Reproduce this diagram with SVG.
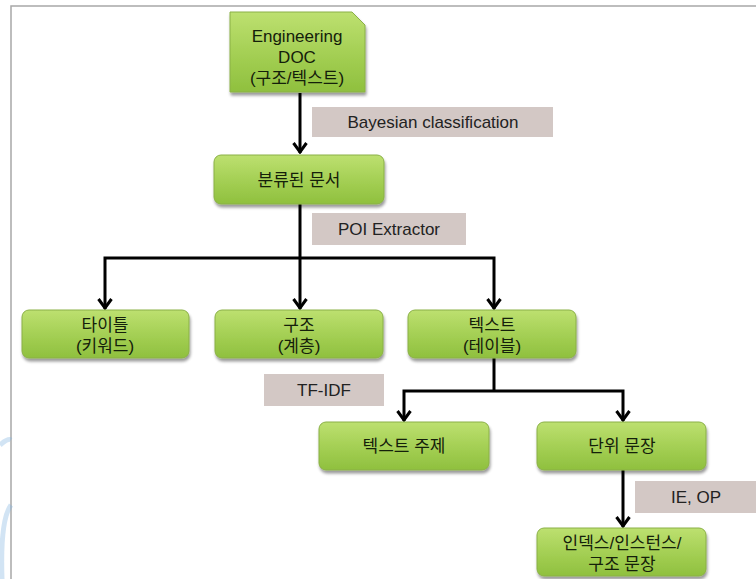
<svg xmlns="http://www.w3.org/2000/svg" width="756" height="579" viewBox="0 0 756 579">
<defs>
<linearGradient id="g" x1="0" y1="0" x2="0" y2="1">
<stop offset="0" stop-color="#bde070"/>
<stop offset="0.5" stop-color="#a5d055"/>
<stop offset="1" stop-color="#8fc03e"/>
</linearGradient>
<filter id="sh" x="-10%" y="-10%" width="125%" height="135%">
<feGaussianBlur in="SourceAlpha" stdDeviation="1.5"/>
<feOffset dx="1" dy="2.5" result="b"/>
<feComponentTransfer><feFuncA type="linear" slope="0.4"/></feComponentTransfer>
<feMerge><feMergeNode/><feMergeNode in="SourceGraphic"/></feMerge>
</filter>
<marker id="ah" viewBox="0 0 14 16" refX="13" refY="8" markerWidth="14" markerHeight="16" markerUnits="userSpaceOnUse" orient="auto-start-reverse">
<path d="M3,1.5 L12,8 L3,14.5" fill="none" stroke="#000" stroke-width="3"/>
</marker>
</defs>
<style>
.n{fill:url(#g);stroke:#8ab046;stroke-width:1;filter:url(#sh)}
.t{font-family:"Liberation Sans","Noto Sans CJK KR",sans-serif;font-size:17px;fill:#14200a;text-anchor:middle}
.lb{fill:#d3c8c5}
.lt{font-family:"Liberation Sans","Noto Sans CJK KR",sans-serif;font-size:17px;fill:#222;text-anchor:middle}
.c{fill:none;stroke:#000;stroke-width:3}
</style>
<rect width="756" height="579" fill="#fff"/>
<path d="M11,579 V6 H756" fill="none" stroke="#a8a8a8" stroke-width="1.5"/>
<g opacity="0.35" fill="none" stroke="#7fb3e0" stroke-width="5">
<path d="M0,445 Q8,438 11,440"/>
<path d="M2,579 Q0,520 11,505"/>
</g>
<g id="labels">
<rect class="lb" x="312" y="107" width="241" height="30"/>
<text class="lt" x="433" y="128">Bayesian classification</text>
<rect class="lb" x="312" y="213" width="154" height="32"/>
<text class="lt" x="389" y="235">POI Extractor</text>
<rect class="lb" x="264" y="374" width="120" height="32"/>
<text class="lt" x="324" y="396">TF-IDF</text>
<rect class="lb" x="635" y="481" width="121" height="32"/>
<text class="lt" x="696" y="503">IE, OP</text>
</g>
<g id="connectors">
<path class="c" d="M300,93 V153" marker-end="url(#ah)"/>
<path class="c" d="M300,204 V258"/>
<path class="c" d="M105,309 V258 H494 V309" marker-start="url(#ah)" marker-end="url(#ah)"/>
<path class="c" d="M300,258 V309" marker-end="url(#ah)"/>
<path class="c" d="M494,358 V391"/>
<path class="c" d="M404,421 V391 H623 V421" marker-start="url(#ah)" marker-end="url(#ah)"/>
<path class="c" d="M623,470 V527" marker-end="url(#ah)"/>
</g>
<g id="n-doc">
<path class="n" d="M230,12 H352 L365,25 V92 H230 Z"/>
<text class="t" x="297" y="42">Engineering</text>
<text class="t" x="297" y="63">DOC</text>
<text class="t" x="297" y="84">(구조/텍스트)</text>
</g>
<g id="n-classified">
<rect class="n" x="214" y="155" width="170" height="49" rx="7"/>
<text class="t" x="299" y="186">분류된 문서</text>
</g>
<g id="n-title">
<rect class="n" x="22" y="310" width="167" height="48" rx="7"/>
<text class="t" x="105" y="331">타이틀</text>
<text class="t" x="105" y="352">(키워드)</text>
</g>
<g id="n-struct">
<rect class="n" x="215" y="310" width="168" height="48" rx="7"/>
<text class="t" x="299" y="331">구조</text>
<text class="t" x="299" y="352">(계층)</text>
</g>
<g id="n-text">
<rect class="n" x="408" y="310" width="168" height="48" rx="7"/>
<text class="t" x="492" y="331">텍스트</text>
<text class="t" x="492" y="352">(테이블)</text>
</g>
<g id="n-topic">
<rect class="n" x="319" y="422" width="170" height="48" rx="7"/>
<text class="t" x="404" y="452">텍스트 주제</text>
</g>
<g id="n-sentence">
<rect class="n" x="537" y="422" width="169" height="48" rx="7"/>
<text class="t" x="622" y="452">단위 문장</text>
</g>
<g id="n-index">
<rect class="n" x="537" y="528" width="169" height="48" rx="7"/>
<text class="t" x="622" y="549">인덱스/인스턴스/</text>
<text class="t" x="622" y="570">구조 문장</text>
</g>
</svg>
